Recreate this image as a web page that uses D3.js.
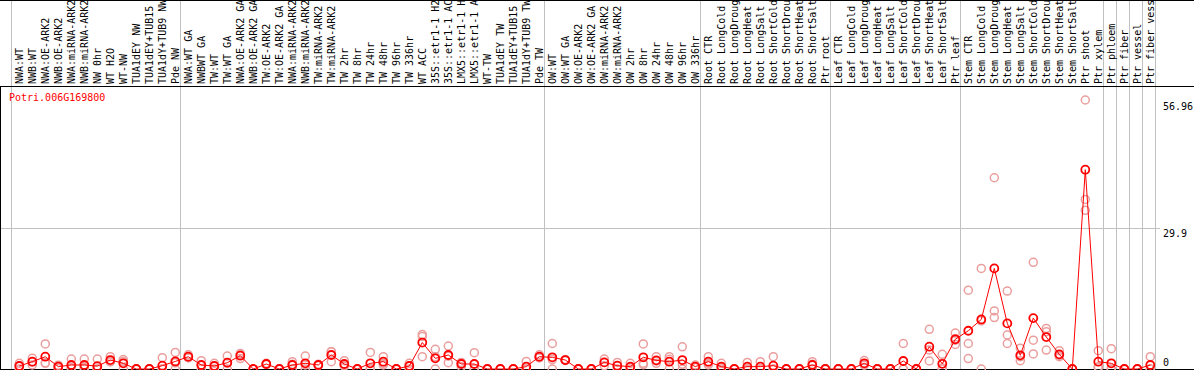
<!DOCTYPE html>
<html>
<head>
<meta charset="utf-8">
<script src="https://cdnjs.cloudflare.com/ajax/libs/d3/7.8.5/d3.min.js"></script>
<style>
  html, body { margin: 0; padding: 0; background: #fff; }
  svg { display: block; }
  text { font-family: "DejaVu Sans Mono", monospace; font-size: 10px; }
</style>
</head>
<body>
<div id="chart"></div>
<script>
// expression profile, one gene

var geneName = "Potri.006G169800";

var samples = [
  "NWA:WT", "NWB:WT", "NWA:OE-ARK2", "NWB:OE-ARK2", "NWA:miRNA-ARK2", "NWB:miRNA-ARK2",
  "NW 0hr", "WT H2O", "WT-NW", "TUA1dEY NW", "TUA1dEY+TUB15 NW", "TUA1dY+TUB9 NW", "Pde NW",
  "NWA:WT GA", "NWBWT GA", "TW:WT", "TW:WT GA", "NWA:OE-ARK2 GA", "NWB:OE-ARK2 GA",
  "TW:OE-ARK2", "TW:OE-ARK2 GA", "NWA:miRNA-ARK2 GA", "NWB:miRNA-ARK2 GA", "TW:miRNA-ARK2",
  "TW:miRNA-ARK2 GA", "TW 2hr", "TW 8hr", "TW 24hr", "TW 48hr", "TW 96hr", "TW 336hr",
  "WT ACC", "35S::etr1-1 H2O", "35S::etr1-1 ACC", "LMX5::etr1-1 H2O", "LMX5::etr1-1 ACC",
  "WT-TW", "TUA1dEY TW", "TUA1dEY+TUB15 TW", "TUA1dY+TUB9 TW", "Pde TW",
  "OW:WT", "OW:WT GA", "OW:OE-ARK2", "OW:OE-ARK2 GA", "OW:miRNA-ARK2", "OW:miRNA-ARK2 GA",
  "OW 2hr", "OW 8hr", "OW 24hr", "OW 48hr", "OW 96hr", "OW 336hr",
  "Root CTR", "Root LongCold", "Root LongDrought", "Root LongHeat", "Root LongSalt",
  "Root ShortCold", "Root ShortDrought", "Root ShortHeat", "Root ShortSalt", "Ptr root",
  "Leaf CTR", "Leaf LongCold", "Leaf LongDrought", "Leaf LongHeat", "Leaf LongSalt",
  "Leaf ShortCold", "Leaf ShortDrought", "Leaf ShortHeat", "Leaf ShortSalt", "Ptr leaf",
  "Stem CTR", "Stem LongCold", "Stem LongDrought", "Stem LongHeat", "Stem LongSalt",
  "Stem ShortCold", "Stem ShortDrought", "Stem ShortHeat", "Stem ShortSalt", "Ptr shoot",
  "Ptr xylem", "Ptr phloem", "Ptr fiber", "Ptr vessel", "Ptr fiber vessel"
];

// index of first sample in each block (last value = end)
var groupBreaks = [0, 13, 41, 53, 63, 73, 84, 85, 86, 87, 88];

var meanValues = [
  0.63, 1.55, 2.6, 0.5, 0.85, 0.85, 0.6, 1.9, 1.2, 0, 0, 0.7, 1.6,
  2.6, 0.85, 0.63, 1.33, 2.82, 0, 1.06, 0, 0.85, 1.2, 0.85, 2.96, 1.06, 0, 1.2, 1.55,
  0, 0.63, 5.6, 2.25, 2.96, 1.06, 1.06, 0, 0, 0, 0.5, 2.6,
  2.47, 1.9, 0, 0, 1.4, 0.7, 0.5, 2.47, 1.83, 1.55, 1.9, 0.5,
  1.55, 0.5, 0, 0.5, 0.5, 0.7, 0, 0, 0.85, 0,
  0, 0, 1.2, 0, 0, 1.69, 0, 4.72, 1.1, 6.3,
  8.1, 10.5, 21.3, 9.66, 2.9, 10.78, 6.76, 3.1, 0, 42.2, 1.55,
  1.2, 0, 0, 0.85
];

var rep1 = [
  1.2, 2.3, 5.3, 0.8, 2.1, 2.1, 2.1, 2.6, 2.0, 0, 0, 2.4, 3.5,
  3.0, 1.76, 1.2, 2.75, 3.3, 0, 1.2, 0, 1.55, 2.75, 1.0, 3.66, 1.76, 0, 3.5, 2.6,
  0, 1.2, 7.3, 4.16, 4.86, 1.4, 3.45, 0, 0, 0, 1.6, 3.0,
  5.4, 2.0, 0, 0, 2.1, 1.4, 1.2, 5.3, 2.6, 2.6, 4.7, 0.85,
  2.6, 1.2, 0, 1.4, 1.55, 2.6, 0, 0, 1.55, 0,
  0, 0, 1.8, 0, 0, 5.4, 0, 8.4, 3.1, 7.6,
  16.7, 21.3, 40.5, 16.5, 4.4, 22.6, 8.6, 3.87, 0, 56.96, 3.87,
  4.3, 0, 0, 2.6
];

var rep2 = [
  0.7, 0.85, 1.2, 0.1, 0.2, 0.3, 0, 1.55, 0, 0, 0, 0, 0,
  2.4, 0, 0, 1.25, 3.0, 0, 1.0, 0, 0, 0, 0.8, 1.55, 0.6, 0, 0, 0.85,
  0, 0, 6.9, 0, 1.33, 0.5, 0, 0, 0, 0, 0, 2.4,
  0, 1.8, 0, 0, 0.7, 0, 0, 1.2, 1.2, 0, 0, 0.3,
  1.2, 0, 0, 0, 0, 0, 0, 0, 1.0, 0,
  0, 0, 1.0, 0, 0, 0, 0, 4.0, 0, 5.2,
  5.4, 0, 12.3, 7.2, 2.6, 6.1, 7.9, 2.6, 0, 35.9, 0.5,
  0, 0, 0, 0
];

var rep3 = [
  0, 1.5, 1.3, 0.6, 0.25, 0.15, 0, 1.55, 1.6, 0, 0, 0, 1.3,
  2.4, 0.8, 0.7, 0, 2.2, 0, 1.0, 0, 1.0, 0.85, 0.75, 3.67, 0.8, 0, 0.1, 1.2,
  0, 0.7, 2.6, 2.6, 2.7, 1.3, 0, 0, 0, 0, 0, 2.4,
  2.0, 1.9, 0, 0, 1.4, 0.7, 0.3, 0.9, 1.7, 2.05, 1.0, 0.35,
  0.85, 0.3, 0, 0.1, 0, 0, 0, 0, 0, 0,
  0, 0, 0.8, 0, 0, 0, 0, 1.7, 0.2, 6.1,
  2.2, 10.2, 10.9, 5.4, 1.76, 3.2, 4.0, 2.9, 0, 33.6, 0.3,
  0, 0, 0, 0
];

var yTicks = [0, 29.9, 56.96];

var W = 1194, H = 370;
var plotLeft = 11, plotRight = 1155, headerH = 86, baseY = 369;

var svg = d3.select("#chart").append("svg")
    .attr("width", W)
    .attr("height", H);

var x = d3.scaleBand()
    .domain(d3.range(samples.length))
    .range([plotLeft, plotRight]);

function cx(i) { return x(i) + x.bandwidth() / 2 + 1.8; }

var y = d3.scaleLinear()
    .domain([0, 56.96])
    .range([baseY, 100]);

// grid
svg.append("line")
    .attr("x1", 0).attr("x2", 1160)
    .attr("y1", Math.round(y(29.9)) + 0.5).attr("y2", Math.round(y(29.9)) + 0.5)
    .attr("stroke", "#c0c0c0");

svg.selectAll("line.group")
    .data(groupBreaks)
  .enter().append("line")
    .attr("class", "group")
    .attr("x1", function(d) { return Math.round(x(d) === undefined ? plotRight : x(d)) + 0.5; })
    .attr("x2", function(d) { return Math.round(x(d) === undefined ? plotRight : x(d)) + 0.5; })
    .attr("y1", 0).attr("y2", H)
    .attr("stroke", "#c0c0c0");

// frame
svg.append("line").attr("x1", 0).attr("x2", W).attr("y1", 0.5).attr("y2", 0.5).attr("stroke", "#000");
svg.append("line").attr("x1", 0).attr("x2", W).attr("y1", headerH + 0.5).attr("y2", headerH + 0.5).attr("stroke", "#000");
svg.append("line").attr("x1", 0).attr("x2", W).attr("y1", baseY + 0.5).attr("y2", baseY + 0.5).attr("stroke", "#000");
svg.append("line").attr("x1", 0.5).attr("x2", 0.5).attr("y1", headerH).attr("y2", H).attr("stroke", "#000");

// sample labels
svg.selectAll("text.sample")
    .data(samples)
  .enter().append("text")
    .attr("class", "sample")
    .attr("transform", function(d, i) { return "translate(" + (cx(i) + 3.5) + "," + (headerH - 2) + ") rotate(-90)"; })
    .attr("fill", "#000")
    .text(function(d) { return d; });

// y labels
svg.selectAll("text.ytick")
    .data(yTicks)
  .enter().append("text")
    .attr("class", "ytick")
    .attr("x", 1163)
    .attr("y", function(d) { return Math.min(y(d) + 9.5, 366); })
    .attr("fill", "#000")
    .text(function(d) { return d; });

svg.append("text")
    .attr("x", 9)
    .attr("y", 100.5)
    .attr("fill", "#f00")
    .text(geneName);

// replicates
var reps = [];
[rep1, rep2, rep3].forEach(function(r) {
  r.forEach(function(v, i) { reps.push({i: i, v: v}); });
});

svg.selectAll("circle.rep")
    .data(reps)
  .enter().append("circle")
    .attr("class", "rep")
    .attr("cx", function(d) { return cx(d.i); })
    .attr("cy", function(d) { return y(d.v); })
    .attr("r", 4)
    .attr("fill", "none")
    .attr("stroke", "#eb9e9e")
    .attr("stroke-width", 1.5);

// mean line
var line = d3.line()
    .x(function(d, i) { return cx(i); })
    .y(function(d) { return y(d); });

svg.append("path")
    .datum(meanValues)
    .attr("d", line)
    .attr("fill", "none")
    .attr("stroke", "#f00")
    .attr("stroke-width", 1);

svg.selectAll("circle.mean")
    .data(meanValues)
  .enter().append("circle")
    .attr("class", "mean")
    .attr("cx", function(d, i) { return cx(i); })
    .attr("cy", function(d) { return y(d); })
    .attr("r", 4)
    .attr("fill", "none")
    .attr("stroke", "#f00")
    .attr("stroke-width", 1.8);
</script>
</body>
</html>
